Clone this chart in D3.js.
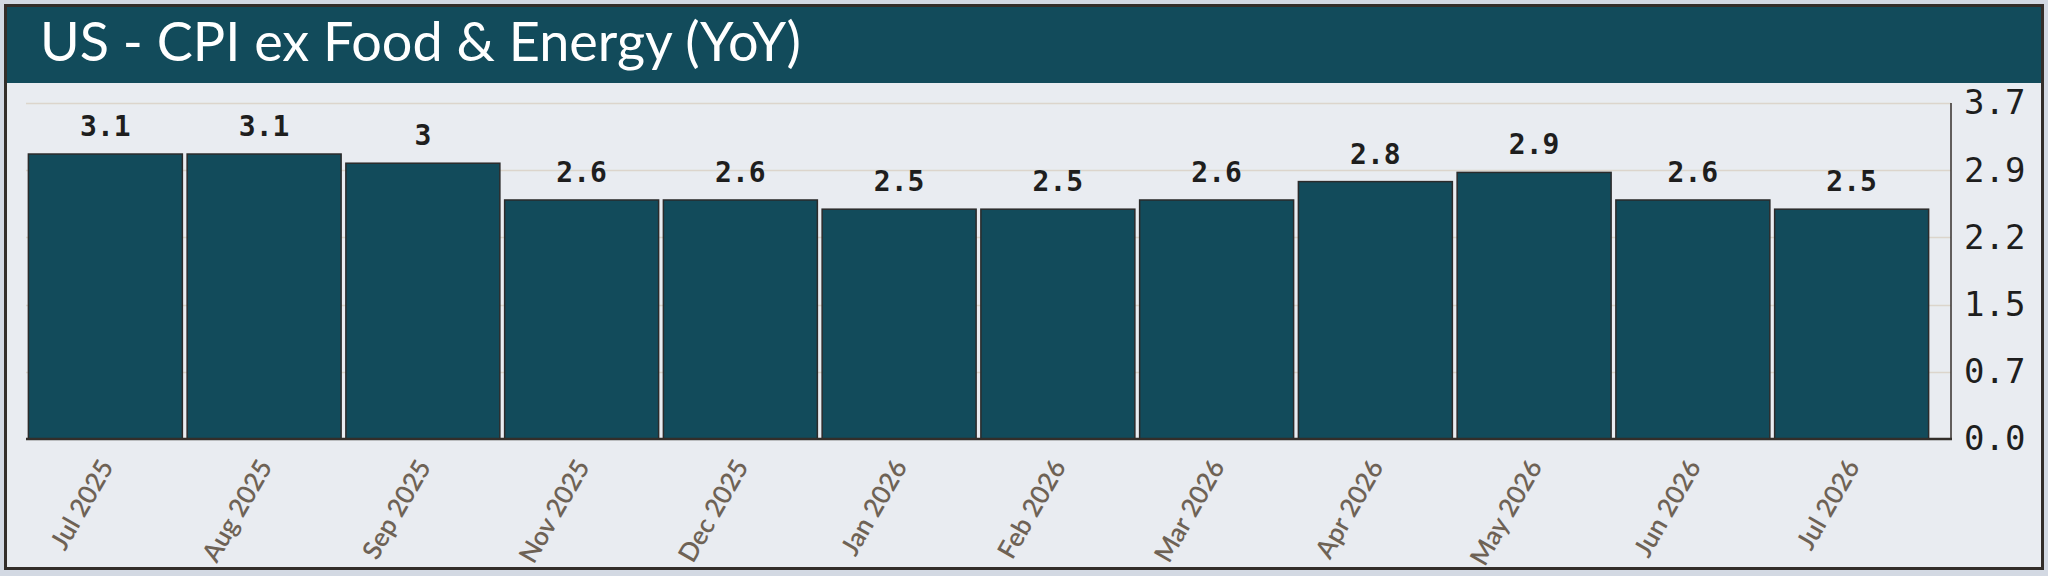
<!DOCTYPE html>
<html>
<head>
<meta charset="utf-8">
<script src="https://cdn.jsdelivr.net/npm/d3@7"></script>
<style>
  html, body { margin: 0; padding: 0; background: #d3d9e3; }
  svg { display: block; }
</style>
</head>
<body>
<svg id="chart" width="2048" height="576"></svg>
<script>
const title = "US - CPI ex Food & Energy (YoY)";
const categories = ["Jul 2025","Aug 2025","Sep 2025","Nov 2025","Dec 2025","Jan 2026","Feb 2026","Mar 2026","Apr 2026","May 2026","Jun 2026","Jul 2026"];
const values = [3.1, 3.1, 3, 2.6, 2.6, 2.5, 2.5, 2.6, 2.8, 2.9, 2.6, 2.5];
const yTickLabels = ["0.0","0.7","1.5","2.2","2.9","3.7"];
const yMax = 3.655;

const svg = d3.select("#chart");
const W = 2048, H = 576;
const teal = "#124b5b";

// card
svg.append("rect").attr("x", 0).attr("y", 0).attr("width", W).attr("height", H).attr("fill", "#d3d9e3");
svg.append("rect").attr("x", 5.5).attr("y", 5.5).attr("width", 2037).attr("height", 563)
  .attr("fill", "#e9ecf1").attr("stroke", "#332e2a").attr("stroke-width", 3);
svg.append("rect").attr("x", 7).attr("y", 7).attr("width", 2034).attr("height", 76).attr("fill", teal);
svg.append("text").attr("x", 40).attr("y", 61)
  .attr("fill", "#ffffff").attr("font-family", "Lato, 'Open Sans', sans-serif")
  .attr("font-size", 54).text(title);

const plot = { left: 26, right: 1951, barRight: 1931, top: 103, bottom: 439 };

const x = d3.scaleBand().domain(categories).range([plot.left, plot.barRight]).paddingInner(0.03).paddingOuter(0.015);
const y = d3.scaleLinear().domain([0, yMax]).range([plot.bottom, plot.top]);
const yTicks = yTickLabels.map((_, i) => yMax * i / (yTickLabels.length - 1));

// gridlines
svg.append("g").selectAll("line").data(yTicks.slice(1)).join("line")
  .attr("x1", plot.left).attr("x2", plot.right)
  .attr("y1", d => Math.round(y(d)) + 0.5).attr("y2", d => Math.round(y(d)) + 0.5)
  .attr("stroke", "#dcd5cc").attr("stroke-width", 1.5);

// bars
svg.append("g").selectAll("rect").data(values).join("rect")
  .attr("x", (d, i) => x(categories[i]))
  .attr("width", x.bandwidth())
  .attr("y", d => y(d))
  .attr("height", d => plot.bottom - y(d))
  .attr("fill", teal).attr("stroke", "#2b2b2b").attr("stroke-width", 1.5);

// value labels
svg.append("g").selectAll("text").data(values).join("text")
  .attr("x", (d, i) => x(categories[i]) + x.bandwidth() / 2)
  .attr("y", d => y(d) - 18)
  .attr("text-anchor", "middle")
  .attr("font-family", "'DejaVu Sans Mono', monospace").attr("font-weight", "bold")
  .attr("font-size", 28).attr("fill", "#1e1e1e")
  .text(d => String(d));

// x axis line and right frame line
svg.append("line").attr("x1", plot.left).attr("x2", plot.right + 1)
  .attr("y1", plot.bottom).attr("y2", plot.bottom).attr("stroke", "#332e2a").attr("stroke-width", 2.5);
svg.append("line").attr("x1", plot.right).attr("x2", plot.right)
  .attr("y1", plot.top).attr("y2", plot.bottom).attr("stroke", "#332e2a").attr("stroke-width", 1.5);

// y axis (right)
const yAxis = d3.axisRight(y).tickValues(yTicks).tickSize(0).tickPadding(13)
  .tickFormat((d, i) => yTickLabels[i]);
const gy = svg.append("g").attr("transform", `translate(${plot.right},0)`).call(yAxis);
gy.select(".domain").remove();
gy.selectAll("text").attr("font-family", "'DejaVu Sans Mono', monospace")
  .attr("font-size", 34).attr("fill", "#1e1e1e");

// x labels
svg.append("g").selectAll("text").data(categories).join("text")
  .attr("transform", d => `translate(${x(d) + x.bandwidth() / 2 + 1},${462}) rotate(-60)`)
  .attr("text-anchor", "end").attr("dy", "0.35em")
  .attr("font-family", "Lato, 'Open Sans', sans-serif").attr("font-size", 26)
  .attr("font-weight", 600)
  .attr("fill", "#6e6255")
  .text(d => d);
</script>
</body>
</html>
